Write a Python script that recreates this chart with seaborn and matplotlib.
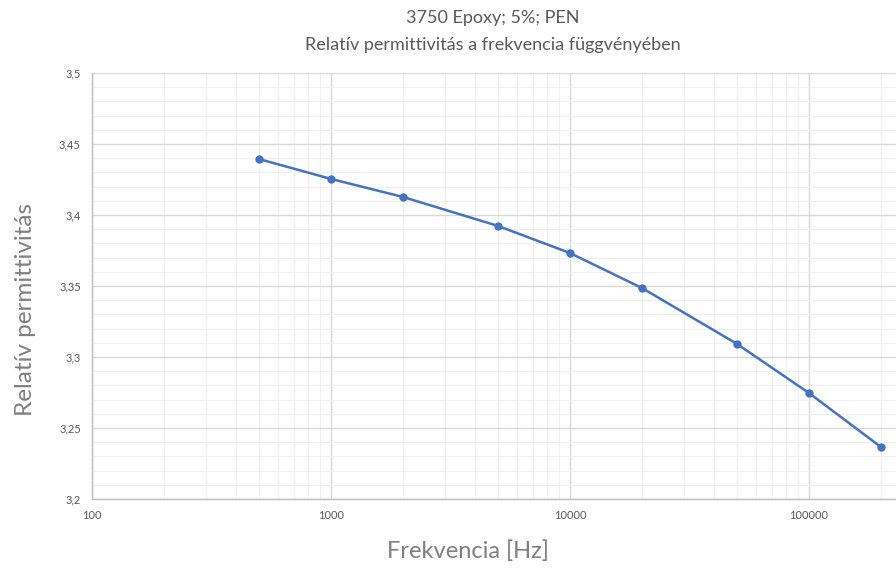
import matplotlib
matplotlib.use("Agg")
import matplotlib.pyplot as plt
import matplotlib.ticker as mticker
import seaborn as sns
import pandas as pd

freq = [500, 1000, 2000, 5000, 10000, 20000, 50000, 100000, 200000]
eps = [3.4394, 3.4254, 3.4127, 3.3923, 3.3732, 3.3486, 3.3092, 3.2746, 3.2366]
title_lines = ["3750 Epoxy; 5%; PEN", "Relatív permittivitás a frekvencia függvényében"]
xlabel = "Frekvencia [Hz]"
ylabel = "Relatív permittivitás"

sns.set_theme(style="white")
plt.rcParams['font.family'] = ['Lato', 'DejaVu Sans']

df = pd.DataFrame({"f": freq, "e": eps})
fig = plt.figure(figsize=(8.96, 5.69), dpi=100)
ax = fig.add_axes([92/896, 1-499/569, 1-92/896, (499-73)/569])
ax.set_xscale("log")
sns.lineplot(data=df, x="f", y="e", ax=ax, color="#4472C4", linewidth=1.8,
             marker="o", markersize=6, markeredgewidth=0, zorder=5)
ax.set_xlim(100, 10**(5+87/239))
ax.set_ylim(3.2, 3.5)
ax.set_yticks([3.2, 3.25, 3.3, 3.35, 3.4, 3.45, 3.5])
ax.yaxis.set_minor_locator(mticker.MultipleLocator(0.01))
ax.yaxis.set_major_formatter(mticker.FuncFormatter(lambda v, p: f"{v:g}".replace(".", ",")))
ax.xaxis.set_major_locator(mticker.LogLocator(base=10))
ax.xaxis.set_minor_locator(mticker.LogLocator(base=10, subs=range(2, 10)))
ax.xaxis.set_minor_formatter(mticker.NullFormatter())
ax.xaxis.set_major_formatter(mticker.FuncFormatter(lambda v, p: f"{int(round(v))}"))
ax.grid(True, which="major", color="#d9d9d9", linewidth=1.0)
ax.grid(True, which="minor", color="#f0f0f0", linewidth=0.8)
ax.set_axisbelow(True)
for s in ["top", "right"]:
    ax.spines[s].set_visible(False)
for s in ["left", "bottom"]:
    ax.spines[s].set_color("#bfbfbf")
    ax.spines[s].set_linewidth(1.0)
ax.tick_params(axis="both", which="both", length=0, labelsize=8, colors="#595959", pad=8)
ax.set_xlabel(xlabel, fontsize=17, color="#7f7f7f")
ax.set_ylabel(ylabel, fontsize=17.5, color="#7f7f7f")
ax.xaxis.set_label_coords((468-92)/804, -(540-499)/426, transform=ax.transAxes)
ax.yaxis.set_label_coords(-(92-36)/804, (499-310)/426, transform=ax.transAxes)
ax.xaxis.label.set_va("top")
fig.text(493/896, 1-18/569, title_lines[0], ha="center", va="center", fontsize=13, color="#595959")
fig.text(493/896, 1-45/569, title_lines[1], ha="center", va="center", fontsize=13, color="#595959")
fig.savefig("out.png", dpi=100)
